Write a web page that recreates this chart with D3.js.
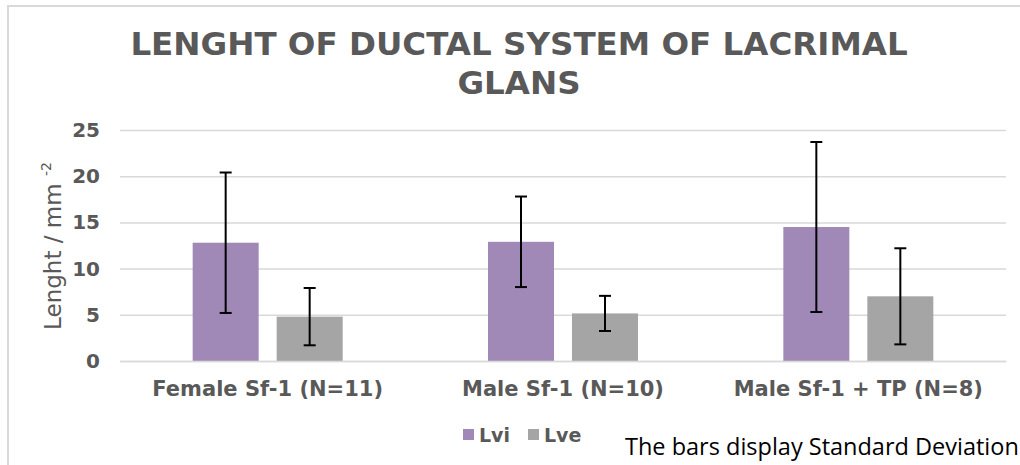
<!DOCTYPE html>
<html>
<head>
<meta charset="utf-8">
<script src="https://cdn.jsdelivr.net/npm/d3@7"></script>
<style>
  body { margin: 0; background: #fff; }
  svg { display: block; }
</style>
</head>
<body>
<div id="chart"></div>
<script>
// Lenght of ductal system of lacrimal glans - grouped bars with SD

var categories = ["Female Sf-1 (N=11)", "Male Sf-1 (N=10)", "Male Sf-1 + TP (N=8)"];
var seriesNames = ["Lvi", "Lve"];
var lviMean = [12.8, 12.9, 14.5];
var lviSD = [7.6, 4.9, 9.2];
var lveMean = [4.8, 5.15, 7.0];
var lveSD = [3.1, 1.9, 5.2];
var yTicks = [0, 5, 10, 15, 20, 25];

var colors = ["#a189b7", "#a5a5a5"];
var textGray = "#595959";

var W = 1020, H = 465;
var margin = { top: 130, left: 120, right: 14, bottom: 104 };
var width = W - margin.left - margin.right;
var height = H - margin.top - margin.bottom;

var svg = d3.select("#chart").append("svg")
    .attr("width", W)
    .attr("height", H);

// chart frame (only top + left visible in the crop)
svg.append("path")
    .attr("d", "M8,465 L8,6 L1020,6")
    .attr("fill", "none")
    .attr("stroke", "#d9d9d9")
    .attr("stroke-width", 2);

var g = svg.append("g")
    .attr("transform", "translate(" + margin.left + "," + margin.top + ")");

var data = categories.map(function(c, i) {
  return [
    { cat: c, key: 0, mean: lviMean[i], sd: lviSD[i] },
    { cat: c, key: 1, mean: lveMean[i], sd: lveSD[i] }
  ];
});

var x0 = d3.scaleBand()
    .domain(categories)
    .range([0, width])
    .paddingInner(0)
    .paddingOuter(0);

// two bars of 66px with 18px gap, centred in each band
var barW = 66, barGap = 18;
var x1 = d3.scaleOrdinal()
    .domain([0, 1])
    .range([x0.bandwidth() / 2 - barGap / 2 - barW, x0.bandwidth() / 2 + barGap / 2]);

var y = d3.scaleLinear()
    .domain([0, 25])
    .range([height, 0]);

// grid + y labels
var yAxis = d3.axisLeft(y)
    .tickValues(yTicks)
    .tickSize(-width)
    .tickPadding(20);

g.append("g")
    .attr("class", "y axis")
    .call(yAxis)
    .call(function(s) {
      s.select(".domain").remove();
      s.selectAll(".tick line").attr("stroke", "#d9d9d9").attr("stroke-width", 1.5);
      s.selectAll(".tick text")
        .attr("fill", textGray)
        .style("font", "bold 20px 'DejaVu Sans'");
    });

// bars
var groups = g.selectAll(".grp")
  .data(data)
  .enter().append("g")
    .attr("class", "grp")
    .attr("transform", function(d, i) { return "translate(" + x0(categories[i]) + ",0)"; });

groups.selectAll("rect")
  .data(function(d) { return d; })
  .enter().append("rect")
    .attr("x", function(d) { return x1(d.key); })
    .attr("width", barW)
    .attr("y", function(d) { return y(d.mean); })
    .attr("height", function(d) { return y(0) - y(d.mean); })
    .attr("fill", function(d) { return colors[d.key]; });

// error bars
var err = groups.selectAll(".err")
  .data(function(d) { return d; })
  .enter().append("g")
    .attr("class", "err")
    .attr("stroke", "#000")
    .attr("stroke-width", 2);

err.append("line")
    .attr("x1", function(d) { return x1(d.key) + barW / 2; })
    .attr("x2", function(d) { return x1(d.key) + barW / 2; })
    .attr("y1", function(d) { return y(d.mean + d.sd); })
    .attr("y2", function(d) { return y(d.mean - d.sd); });

[1, -1].forEach(function(sgn) {
  err.append("line")
      .attr("x1", function(d) { return x1(d.key) + barW / 2 - 6; })
      .attr("x2", function(d) { return x1(d.key) + barW / 2 + 6; })
      .attr("y1", function(d) { return y(d.mean + sgn * d.sd); })
      .attr("y2", function(d) { return y(d.mean + sgn * d.sd); });
});

// x axis
var xAxis = d3.axisBottom(x0).tickSize(0).tickPadding(20);
g.append("g")
    .attr("class", "x axis")
    .attr("transform", "translate(0," + height + ")")
    .call(xAxis)
    .call(function(s) {
      s.select(".domain").attr("stroke", "#d9d9d9").attr("stroke-width", 1.5);
      s.selectAll(".tick text")
        .attr("fill", textGray)
        .style("font", "bold 21px 'DejaVu Sans'");
    });

// title
var title = svg.append("text")
    .attr("text-anchor", "middle")
    .attr("fill", textGray)
    .style("font", "bold 32.5px 'DejaVu Sans'");
title.append("tspan").attr("x", 519).attr("y", 55).text("LENGHT OF DUCTAL SYSTEM OF LACRIMAL");
title.append("tspan").attr("x", 519).attr("y", 94).text("GLANS");

// y axis title
var yt = svg.append("text")
    .attr("transform", "translate(61,246) rotate(-90)")
    .attr("text-anchor", "middle")
    .attr("fill", textGray)
    .style("font", "23px 'DejaVu Sans'");
yt.append("tspan").text("Lenght / mm ");
yt.append("tspan").attr("dy", -10).style("font-size", "14px").text("-2");

// legend
var legend = svg.append("g").selectAll("g")
  .data(seriesNames)
  .enter().append("g")
    .attr("transform", function(d, i) { return "translate(" + (463 + i * 65) + ",429)"; });

legend.append("rect")
    .attr("width", 11)
    .attr("height", 11)
    .attr("fill", function(d, i) { return colors[i]; });

legend.append("text")
    .attr("x", 16)
    .attr("y", 13)
    .attr("fill", textGray)
    .style("font", "bold 19px 'DejaVu Sans'")
    .text(function(d) { return d; });

// note
svg.append("text")
    .attr("x", 625)
    .attr("y", 455)
    .attr("fill", "#000")
    .style("font", "23.5px 'Open Sans'")
    .text("The bars display Standard Deviation");
</script>
</body>
</html>
